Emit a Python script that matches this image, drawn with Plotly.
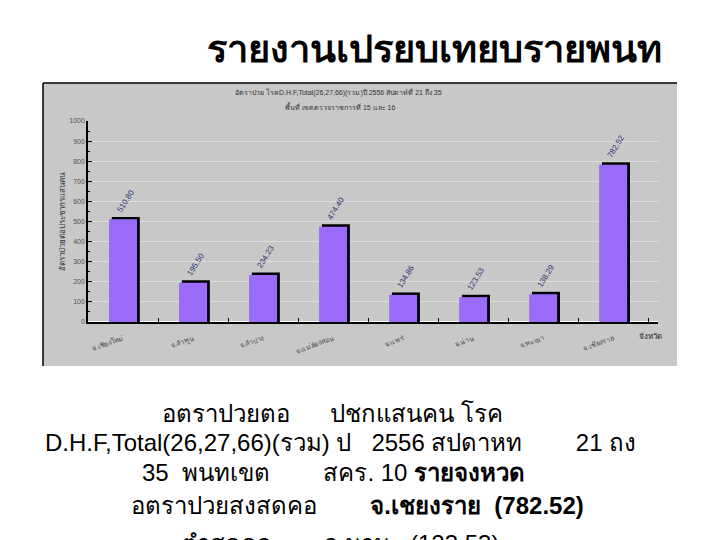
import plotly.graph_objects as go

provinces = ["จ.เชียงใหม่", "จ.ลำพูน", "จ.ลำปาง", "จ.แม่ฮ่องสอน", "จ.แพร่", "จ.น่าน", "จ.พะเยา", "จ.เชียงราย"]
rates = [510.80, 195.50, 234.23, 474.40, 134.86, 123.53, 138.29, 782.52]
y_ticks = [0, 100, 200, 300, 400, 500, 600, 700, 800, 900, 1000]

depth = 12  # 3D edge depth in axis units (style)
W, H = 720, 540
px = lambda x: x / W
py = lambda y: 1 - y / H

fig = go.Figure()
fig.add_trace(go.Bar(
    x=provinces, y=[v + depth for v in rates], width=0.4, offset=-0.16,
    marker=dict(color="#000000", line=dict(width=0)), hoverinfo="skip",
    text=[f"{v:.2f}" for v in rates], textposition="outside", textangle=-58,
    textfont=dict(size=8, color="#333377", family="Liberation Sans"),
    cliponaxis=False,
))
fig.add_trace(go.Bar(
    x=provinces, y=rates, width=0.4, offset=-0.2,
    marker=dict(color="#9b6bfa", line=dict(width=0)),
))

fig.update_layout(
    width=W, height=H, barmode="overlay", showlegend=False,
    margin=dict(l=0, r=0, t=0, b=0, autoexpand=False),
    paper_bgcolor="white", plot_bgcolor="white",
    font=dict(family="Liberation Sans, Noto Sans, DejaVu Sans", color="#333"),
    xaxis=dict(domain=[px(88), px(658)], range=[-0.5, 7.64], showline=True, automargin=False,
               linecolor="black", linewidth=1.5, ticks="inside", tickson="boundaries",
               ticklen=4, tickcolor="black", tickangle=-20, ticklabelstandoff=8,
               tickfont=dict(size=7, color="#444")),
    yaxis=dict(domain=[py(322), py(121)], range=[0, 1000], tickvals=y_ticks, automargin=False,
               showline=True, linecolor="black", linewidth=1.5, ticks="inside",
               ticklen=4, tickcolor="black", gridcolor="#dddddd", gridwidth=1,
               minor=dict(dtick=50, ticks="inside", ticklen=2, tickcolor="black", showgrid=False),
               tickfont=dict(size=7, color="#555"),
               title=dict(text="อัตราป่วยต่อประชากรแสนคน", font=dict(size=8, color="#333"), standoff=2)),
    shapes=[
        dict(type="rect", xref="paper", yref="paper", x0=px(43), x1=px(677), y0=py(366), y1=py(83),
             fillcolor="#c8c8c8", line=dict(width=0), layer="below"),
        dict(type="line", xref="paper", yref="paper", x0=px(43), x1=px(43), y0=py(366), y1=py(83),
             line=dict(color="black", width=1.5)),
        dict(type="line", xref="paper", yref="paper", x0=px(43), x1=px(677), y0=py(83), y1=py(83),
             line=dict(color="black", width=1.5)),
    ],
)

big = "Liberation Sans Narrow, Liberation Sans, Noto Sans"
ann = [
    dict(text="<b>รายงานเปรยบเทยบรายพนท</b>", x=px(434), y=py(49), font=dict(size=38, color="black")),
    dict(text="อัตราป่วย โรคD.H.F,Total(26,27,66)(รวม)ปี 2556 สัปดาห์ที่ 21 ถึง 35", x=px(338), y=py(92),
         font=dict(size=7, color="#333")),
    dict(text="พื้นที่ เขตตรวจราชการที่ 15 และ 16", x=px(340), y=py(106), font=dict(size=7, color="#333")),
    dict(text="จังหวัด", x=px(650), y=py(336), font=dict(size=8, color="#222")),
    dict(text="อตราปวยตอ      ปชกแสนคน โรค", x=px(332), y=py(413), font=dict(size=24, color="black", family=big)),
    dict(text="D.H.F,Total(26,27,66)(รวม) ป   2556 สปดาหท        21 ถง", x=px(340), y=py(442),
         font=dict(size=24, color="black", family=big)),
    dict(text="35  พนทเขต        สคร. 10 <b>รายจงหวด</b>", x=px(333), y=py(472), font=dict(size=24, color="black", family=big)),
    dict(text="อตราปวยสงสดคอ        <b>จ.เชยงราย  (782.52)</b>", x=px(357), y=py(505),
         font=dict(size=24, color="black", family=big)),
    dict(text="ตำสดคอ        จ.นาน   (123.53)", x=px(340), y=py(543), font=dict(size=24, color="black", family=big)),
]
for a in ann:
    fig.add_annotation(xref="paper", yref="paper", showarrow=False, xanchor="center", yanchor="middle", **a)

fig.write_html("out.html", config={"displayModeBar": False},
               post_script="document.body.style.margin='0';document.body.style.padding='0';")
